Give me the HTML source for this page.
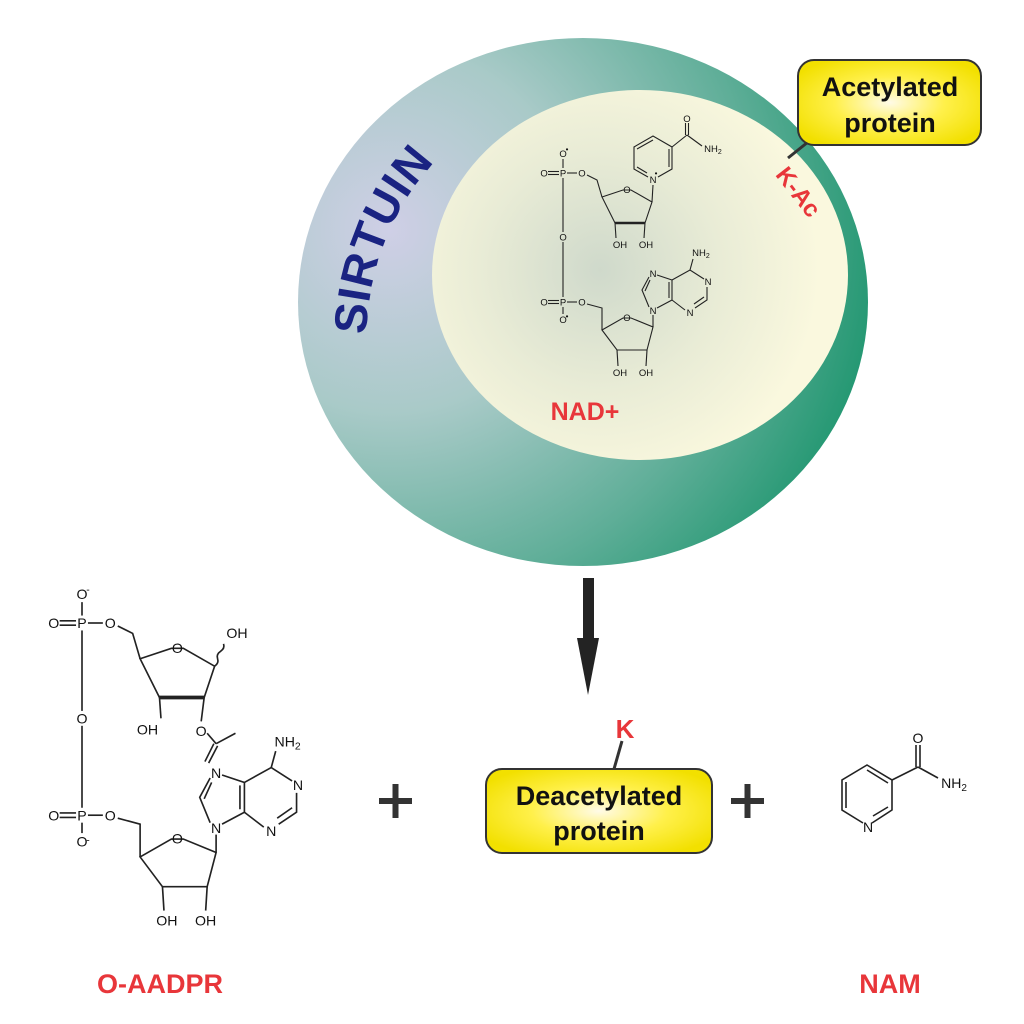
<!DOCTYPE html>
<html><head><meta charset="utf-8"><style>
html,body{margin:0;padding:0;background:#fff}
svg{display:block}
.ch{font-family:"Liberation Sans",sans-serif;fill:#111}
</style></head><body>
<svg width="1024" height="1024" viewBox="0 0 1024 1024" xmlns="http://www.w3.org/2000/svg">
<defs>
<radialGradient id="outer" cx="390" cy="230" r="520" gradientUnits="userSpaceOnUse">
<stop offset="0" stop-color="#cfcfe6"/>
<stop offset="0.35" stop-color="#a9cac8"/>
<stop offset="0.7" stop-color="#5fae98"/>
<stop offset="1" stop-color="#17936a"/>
</radialGradient>
<radialGradient id="inner" cx="600" cy="270" r="220" gradientUnits="userSpaceOnUse">
<stop offset="0" stop-color="#cfd9cb"/>
<stop offset="0.55" stop-color="#e9ecd6"/>
<stop offset="1" stop-color="#faf8de"/>
</radialGradient>
<radialGradient id="yel" cx="0.5" cy="0.5" r="0.6">
<stop offset="0" stop-color="#fffbe8"/>
<stop offset="0.5" stop-color="#fff04a"/>
<stop offset="1" stop-color="#f2e000"/>
</radialGradient>
<path id="sirarc" d="M 366 335 Q 372 205 470 130"/>
<g id="common" stroke="#222" stroke-width="1.1" fill="none">
  <!-- upper phosphate -->
  <line x1="0" y1="5" x2="0" y2="59"/>
  <line x1="0" y1="69" x2="0" y2="124"/>
  <line x1="-15" y1="-1.5" x2="-4" y2="-1.5"/><line x1="-15" y1="1.5" x2="-4" y2="1.5"/>
  <line x1="4" y1="0" x2="14" y2="0"/>
  <line x1="0" y1="-5" x2="0" y2="-14"/>
  <polyline points="24,2 34,7 39,24"/>
  <polygon points="39,24 60,17 68,17 89,29 82,50 52,50" />
  <!-- lower phosphate -->
  <line x1="-15" y1="127.5" x2="-4" y2="127.5"/><line x1="-15" y1="130.5" x2="-4" y2="130.5"/>
  <line x1="4" y1="129" x2="14" y2="129"/>
  <line x1="0" y1="134" x2="0" y2="141"/>
  <polyline points="24,131 39,135 39,157"/>
  <polygon points="39,157 60,145 68,145 90,154 84,177 54,177"/>
  <line x1="54" y1="177" x2="55" y2="193"/><line x1="84" y1="177" x2="83" y2="193"/>
  <!-- adenine -->
  <line x1="90" y1="154" x2="90" y2="142"/>
  <polyline points="86,134 79,117 86,104"/>
  <line x1="82" y1="118" x2="87" y2="107"/>
  <polyline points="94,102 109,107 109,127 94,135"/>
  <line x1="106" y1="109" x2="106" y2="125"/>
  <polyline points="109,107 127,97 141,106"/>
  <line x1="127" y1="97" x2="130" y2="86"/>
  <polyline points="144,114 144,127 132,135"/>
  <line x1="141" y1="124" x2="131" y2="131"/>
  <line x1="122" y1="137" x2="109" y2="127"/>
</g>
<g id="commonText" class="ch" font-size="9.5" text-anchor="middle">
  <text x="0" y="3.5">P</text>
  <text x="-19" y="3.5">O</text>
  <text x="19" y="3.5">O</text>
  <text x="0" y="-16">O</text>
  <text x="0" y="67.5">O</text>
  <text x="0" y="132.5">P</text>
  <text x="-19" y="132.5">O</text>
  <text x="19" y="132.5">O</text>
  <text x="0" y="150">O</text>
  <text x="64" y="20">O</text>
  <text x="64" y="148">O</text>
  <text x="57" y="203">OH</text><text x="83" y="203">OH</text>
  <text x="90" y="141">N</text>
  <text x="90" y="104">N</text>
  <text x="145" y="112">N</text>
  <text x="127" y="143">N</text>
  <text x="138" y="83">NH<tspan font-size="7" dy="2">2</tspan></text>
</g>
</defs>

<!-- Sirtuin -->
<ellipse cx="583" cy="302" rx="285" ry="264" fill="url(#outer)"/>
<ellipse cx="640" cy="275" rx="208" ry="185" fill="url(#inner)"/>
<text font-family="Liberation Sans,sans-serif" font-weight="bold" font-size="46" fill="#1a2382" letter-spacing="1"><textPath href="#sirarc">SIRTUIN</textPath></text>

<!-- NAD+ -->
<g transform="translate(563,173)">
  <use href="#common"/>
  <use href="#commonText"/>
  <g stroke="#222" stroke-width="1.1" fill="none">
    <line x1="52" y1="50" x2="53" y2="65"/><line x1="82" y1="50" x2="81" y2="65"/>
    <line x1="52" y1="50" x2="82" y2="50" stroke-width="2.6"/>
    <line x1="89" y1="29" x2="90" y2="12"/>
    <polyline points="95,4 109,-4 109,-26 90,-37 71,-26 71,-4 85,4"/>
    <line x1="106" y1="-6" x2="106" y2="-24"/>
    <line x1="90" y1="-33" x2="74" y2="-24"/>
    <line x1="74" y1="-6" x2="84" y2="0"/>
    <line x1="109" y1="-26" x2="124" y2="-38"/>
    <line x1="122.5" y1="-38" x2="122.5" y2="-50"/><line x1="125.5" y1="-38" x2="125.5" y2="-50"/>
    <line x1="124" y1="-38" x2="139" y2="-27"/>
  </g>
  <g class="ch" font-size="9.5" text-anchor="middle">
    <text x="90" y="10">N</text>
    <text x="124" y="-51">O</text>
    <text x="150" y="-21">NH<tspan font-size="7" dy="2">2</tspan></text>
    <text x="57" y="75">OH</text><text x="83" y="75">OH</text>
    <text x="4" y="-21" font-size="8">•</text>
    <text x="4" y="146" font-size="8">•</text>
    <text x="93" y="3" font-size="8">•</text>
  </g>
</g>
<text x="585" y="420" text-anchor="middle" font-family="Liberation Sans,sans-serif" font-weight="bold" font-size="25" fill="#e8363a">NAD+</text>
<text transform="translate(792,197) rotate(52)" text-anchor="middle" font-family="Liberation Sans,sans-serif" font-weight="bold" font-size="24" fill="#e8363a">K-Ac</text>

<!-- Acetylated protein -->
<line x1="788" y1="158" x2="808" y2="142" stroke="#333" stroke-width="3"/>
<rect x="798" y="60" width="183" height="85" rx="16" fill="url(#yel)" stroke="#333" stroke-width="2"/>
<text x="890" y="96" text-anchor="middle" font-family="Liberation Sans,sans-serif" font-weight="bold" font-size="27" fill="#111">Acetylated</text>
<text x="890" y="132" text-anchor="middle" font-family="Liberation Sans,sans-serif" font-weight="bold" font-size="27" fill="#111">protein</text>

<!-- Arrow -->
<rect x="583" y="578" width="11" height="64" fill="#232323"/>
<polygon points="577,638 599,638 588,695" fill="#232323"/>

<!-- Deacetylated -->
<text x="625" y="738" text-anchor="middle" font-family="Liberation Sans,sans-serif" font-weight="bold" font-size="26" fill="#e8363a">K</text>
<line x1="622" y1="741" x2="614" y2="769" stroke="#333" stroke-width="3"/>
<rect x="486" y="769" width="226" height="84" rx="16" fill="url(#yel)" stroke="#333" stroke-width="2"/>
<text x="599" y="805" text-anchor="middle" font-family="Liberation Sans,sans-serif" font-weight="bold" font-size="27" fill="#111">Deacetylated</text>
<text x="599" y="840" text-anchor="middle" font-family="Liberation Sans,sans-serif" font-weight="bold" font-size="27" fill="#111">protein</text>

<!-- plus signs -->
<g fill="#333">
<rect x="379" y="798" width="33" height="6"/><rect x="392.5" y="784" width="6" height="34"/>
<rect x="731" y="798" width="33" height="6"/><rect x="744.5" y="784" width="6" height="34"/>
</g>

<!-- O-AADPR -->
<g transform="translate(82,623) scale(1.49)">
  <use href="#common"/>
  <use href="#commonText"/>
  <g stroke="#222" stroke-width="1.1" fill="none">
    <line x1="52" y1="50" x2="82" y2="50" stroke-width="2.6"/>
    <line x1="52" y1="50" x2="53" y2="64"/>
    <line x1="82" y1="50" x2="80" y2="66"/>
    <path d="M89,29 q3,-2 2,-5 q-1,-3 2,-5 q3,-2 2,-5"/>
    <line x1="84" y1="74" x2="90" y2="81"/>
    <line x1="90" y1="81" x2="103" y2="74"/>
    <line x1="88.5" y1="81" x2="82.5" y2="93"/><line x1="91" y1="82.5" x2="85" y2="94"/>
  </g>
  <g class="ch" font-size="9.5" text-anchor="middle">
    <text x="104" y="10">OH</text>
    <text x="44" y="75">OH</text>
    <text x="80" y="76">O</text>
    <text x="4" y="-20" font-size="7">-</text>
    <text x="4" y="148" font-size="7">-</text>
  </g>
</g>

<!-- NAM -->
<g stroke="#222" stroke-width="1.6" fill="none">
  <polyline points="872,823 892,810 892,780 867,765 842,780 842,810 863,823"/>
  <line x1="888" y1="783" x2="867" y2="770"/>
  <line x1="846" y1="782" x2="846" y2="808"/>
  <line x1="873" y1="816" x2="888" y2="807"/>
  <line x1="892" y1="780" x2="918" y2="767"/>
  <line x1="916" y1="767" x2="916" y2="745"/><line x1="920" y1="767" x2="920" y2="745"/>
  <line x1="918" y1="767" x2="938" y2="778"/>
</g>
<g class="ch" font-size="14" text-anchor="middle">
  <text x="868" y="832">N</text>
  <text x="918" y="743">O</text>
  <text x="954" y="788">NH<tspan font-size="10" dy="3">2</tspan></text>
</g>

<!-- labels -->
<text x="160" y="993" text-anchor="middle" font-family="Liberation Sans,sans-serif" font-weight="bold" font-size="27" fill="#e8363a">O-AADPR</text>
<text x="890" y="993" text-anchor="middle" font-family="Liberation Sans,sans-serif" font-weight="bold" font-size="27" fill="#e8363a">NAM</text>
</svg>
</body></html>
